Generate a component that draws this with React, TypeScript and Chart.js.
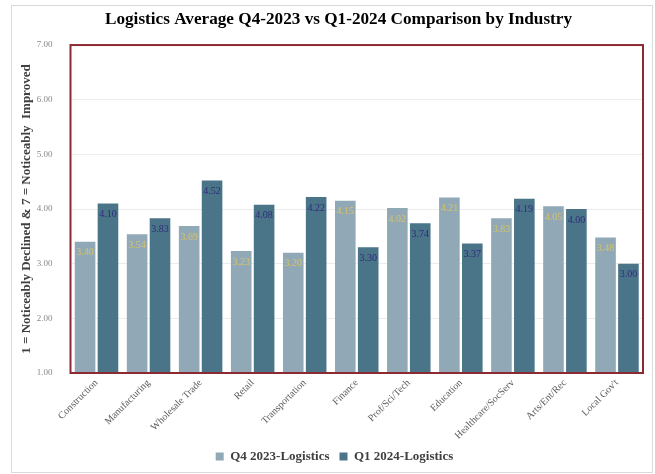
import React, { useEffect, useRef } from "react";
import { Chart, registerables } from "chart.js";

Chart.register(...registerables);

const categories = [
  "Construction",
  "Manufacturing",
  "Wholesale Trade",
  "Retail",
  "Transportation",
  "Finance",
  "Prof/Sci/Tech",
  "Education",
  "Healthcare/SocServ",
  "Arts/Ent/Rec",
  "Local Gov't",
];
const q4Values = [3.4, 3.54, 3.69, 3.23, 3.2, 4.15, 4.02, 4.21, 3.83, 4.05, 3.48];
const q1Values = [4.1, 3.83, 4.52, 4.08, 4.22, 3.3, 3.74, 3.37, 4.19, 4.0, 3.0];
const seriesNames = ["Q4 2023-Logistics", "Q1 2024-Logistics"];
const yTicks = [1, 2, 3, 4, 5, 6, 7];

const SERIF = "'Liberation Serif', 'Times New Roman', serif";
const labelColors = ["#d6c36a", "#2f2c7e"];

const framePlugin = {
  id: "framePlugin",
  afterLayout(chart: any) {
    const t = chart.titleBlock;
    if (t) {
      t.left += 11;
      t.right += 11;
    }
    const l = chart.legend;
    if (l) {
      l.left += 7;
      l.right += 7;
    }
  },
  beforeDraw(chart: any) {
    const ctx = chart.ctx;
    ctx.save();
    ctx.fillStyle = "#ffffff";
    ctx.fillRect(0, 0, chart.width, chart.height);
    ctx.strokeStyle = "#d9d9d9";
    ctx.lineWidth = 1;
    ctx.strokeRect(11.5, 5.5, 641, 467);
    ctx.restore();
  },
  afterDatasetsDraw(chart: any) {
    const ctx = chart.ctx;
    const a = chart.chartArea;
    ctx.save();
    chart.data.datasets.forEach((ds: any, di: number) => {
      const meta = chart.getDatasetMeta(di);
      ctx.font = `10px ${SERIF}`;
      ctx.fillStyle = labelColors[di];
      ctx.textAlign = "center";
      ctx.textBaseline = "middle";
      meta.data.forEach((bar: any, i: number) => {
        ctx.fillText(Number(ds.data[i]).toFixed(2), bar.x, bar.y + 11);
      });
    });
    ctx.strokeStyle = "#8b2a32";
    ctx.lineWidth = 2;
    ctx.strokeRect(a.left, a.top, a.right - a.left, a.bottom - a.top);
    ctx.restore();
  },
};

export default function App() {
  const canvasRef = useRef<HTMLCanvasElement>(null);

  useEffect(() => {
    if (!canvasRef.current) return;
    const chart = new Chart(canvasRef.current, {
      type: "bar",
      data: {
        labels: categories,
        datasets: [
          {
            label: seriesNames[0],
            data: q4Values,
            backgroundColor: "#91a9b7",
            categoryPercentage: 0.88,
            barPercentage: 0.9,
          },
          {
            label: seriesNames[1],
            data: q1Values,
            backgroundColor: "#4a7488",
            categoryPercentage: 0.88,
            barPercentage: 0.9,
          },
        ],
      },
      options: {
        animation: false,
        responsive: false,
        maintainAspectRatio: false,
        layout: { padding: { left: 12, right: 12, top: 0, bottom: 1 } },
        plugins: {
          title: {
            display: true,
            text: "Logistics Average Q4-2023 vs Q1-2024 Comparison by Industry",
            color: "#000000",
            font: { family: SERIF, size: 17.2, weight: "bold" },
            padding: { top: 9, bottom: 15.4 },
          },
          legend: {
            display: true,
            position: "bottom",
            labels: {
              color: "#404040",
              font: { family: SERIF, size: 13, weight: "bold" },
              boxWidth: 8,
              boxHeight: 8,
              padding: 10,
            },
          },
          tooltip: { enabled: false },
        },
        scales: {
          x: {
            grid: { display: false, drawTicks: false },
            border: { display: false },
            ticks: {
              color: "#595959",
              font: { family: SERIF, size: 10 },
              minRotation: 45,
              maxRotation: 45,
              padding: 4,
              autoSkip: false,
            },
            afterFit(scale: any) {
              scale.height = 67;
            },
          },
          y: {
            min: 1,
            max: 7,
            afterBuildTicks(scale: any) {
              scale.ticks = yTicks.map((v) => ({ value: v }));
            },
            grid: { color: "#ececec", drawTicks: false },
            border: { display: false },
            ticks: {
              color: "#8a8a8a",
              font: { family: SERIF, size: 9 },
              padding: 18,
              callback: (v: any) => Number(v).toFixed(2),
            },
            title: {
              display: true,
              text: "1 = Noticeably Declined & 7 = Noticeably  Improved",
              color: "#404040",
              font: { family: SERIF, size: 13, weight: "bold" },
              padding: { top: 7, bottom: 0 },
            },
            afterFit(scale: any) {
              scale.width = 58.5;
            },
          },
        },
      },
      plugins: [framePlugin],
    });
    return () => chart.destroy();
  }, []);

  return (
    <div style={{ position: "fixed", left: 0, top: 0, width: 655, height: 474, background: "#fff" }}>
      <canvas ref={canvasRef} width={655} height={474} style={{ width: 655, height: 474 }} />
    </div>
  );
}
